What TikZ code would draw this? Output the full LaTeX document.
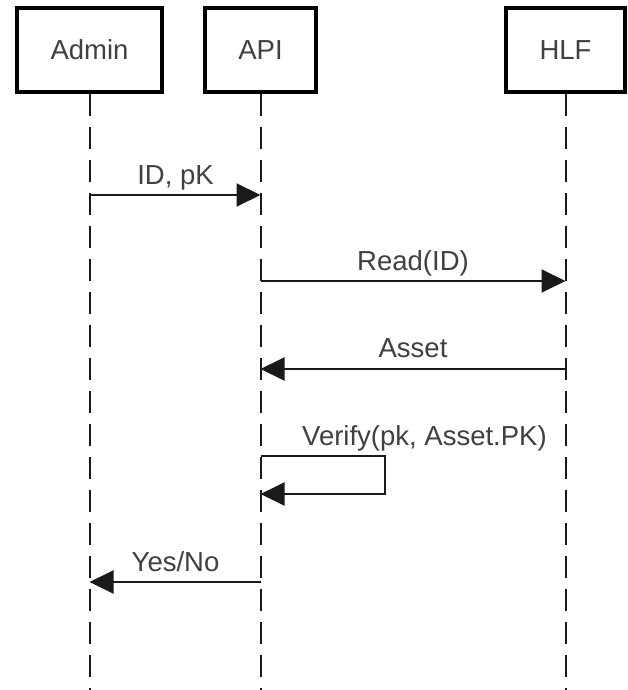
\documentclass[tikz,border=0pt]{standalone}
\usepackage{fontspec}
\setmainfont{Liberation Sans}
\usetikzlibrary{arrows.meta}
\definecolor{inkgray}{HTML}{404040}
\definecolor{linegray}{HTML}{1A1A1A}
\tikzset{
  actor/.style={draw=black, line width=3.8pt, minimum height=84pt, inner sep=0pt,
    font=\fontsize{27.5}{32}\selectfont, text=inkgray},
  lifeline/.style={draw=linegray, line width=2pt, dash pattern=on 22pt off 11pt},
  msg/.style={draw=linegray, line width=2pt,
    -{Triangle[length=24pt,width=23pt]}},
  msglabel/.style={font=\fontsize{27.5}{32}\selectfont, text=inkgray, anchor=base, inner sep=0pt}
}
\begin{document}
\begin{tikzpicture}[x=1pt, y=-1pt]
  \useasboundingbox (0,0) rectangle (628,690);
  \fill[white] (0,0) rectangle (628,690);

  % participants
  \node[actor, minimum width=145.5pt] (admin) at (89.5,50) {Admin};
  \node[actor, minimum width=111.5pt] (api) at (260.5,50) {API};
  \node[actor, minimum width=119.5pt] (hlf) at (565.5,50) {HLF};

  % lifeline ends
  \coordinate (adminEnd) at (89.5,692);
  \coordinate (apiEnd) at (260.5,692);
  \coordinate (hlfEnd) at (565.5,692);
  \draw[lifeline] (admin.south) -- (adminEnd);
  \draw[lifeline] (api.south) -- (apiEnd);
  \draw[lifeline] (hlf.south) -- (hlfEnd);

  % message anchor points on the lifelines
  \coordinate (m1s) at (89.5,195);  \coordinate (m1e) at (260.5,195);
  \coordinate (m2s) at (260.5,281); \coordinate (m2e) at (565.5,281);
  \coordinate (m3s) at (565.5,369); \coordinate (m3e) at (260.5,369);
  \coordinate (m4s) at (260.5,456); \coordinate (m4e) at (260.5,494);
  \coordinate (m4r) at (385,456);
  \coordinate (m5s) at (260.5,582); \coordinate (m5e) at (89.5,582);

  % messages
  \draw[msg] (m1s) -- (m1e);
  \node[msglabel] (l1) at (175.5,184) {ID, pK};

  \draw[msg] (m2s) -- (m2e);
  \node[msglabel] (l2) at (413,270) {Read(ID)};

  \draw[msg] (m3s) -- (m3e);
  \node[msglabel] (l3) at (413,357) {Asset};

  \draw[msg] (m4s) -- (m4r) |- (m4e);
  \node[msglabel, anchor=base west] (l4) at (302,445) {Verify(pk, Asset.PK)};

  \draw[msg] (m5s) -- (m5e);
  \node[msglabel] (l5) at (175.5,571) {Yes/No};
\end{tikzpicture}
\end{document}
